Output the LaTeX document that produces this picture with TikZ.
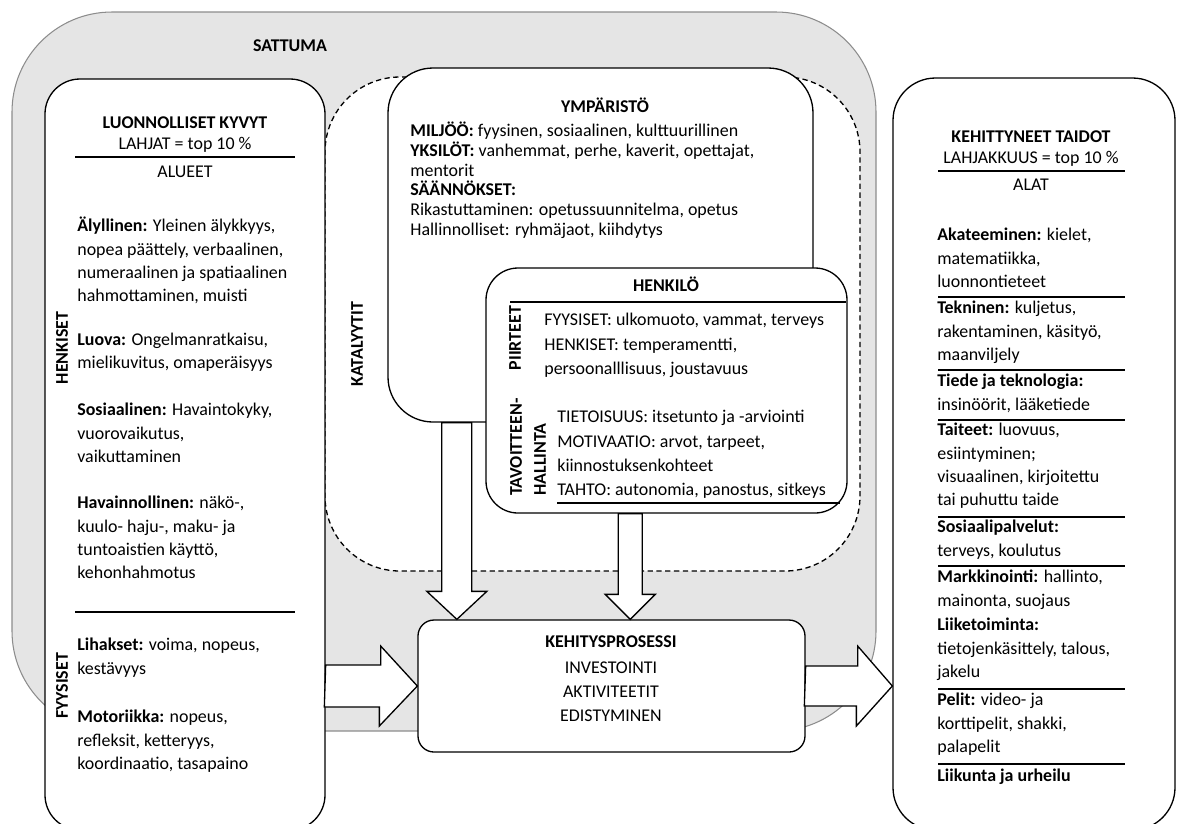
\documentclass[tikz,border=0pt]{standalone}
\usepackage{fontspec}
\setmainfont{Carlito}
\usetikzlibrary{calc, fit}

\tikzset{
  sattuma/.style={fill=gray!20, draw=black!45, line width=0.6pt, inner sep=0pt},
  box/.style={draw, fill=white, line width=0.75pt, inner sep=0pt},
  katalyytti/.style={box, dash pattern=on 3pt off 2pt},
  sep/.style={line width=0.85pt},
  fat/.style={draw, fill=white, line width=0.75pt, line join=miter},
  ttl/.style={anchor=base, inner sep=0pt, font=\fontsize{10.2}{13.2}\selectfont\bfseries},
  lbl/.style={anchor=base, inner sep=0pt, font=\fontsize{10.2}{13.2}\selectfont},
  side/.style={inner sep=0pt, rotate=90, font=\fontsize{10.2}{13.6}\selectfont\bfseries},
  para/.style={anchor=north west, inner sep=0pt, align=left,
    font=\fontsize{10.2}{#1}\selectfont, execute at begin node=\rule{0pt}{8pt}}
}

\begin{document}
\begin{tikzpicture}[x=0.02cm, y=-0.02cm]
\useasboundingbox (0,0) rectangle (1180,823);
\clip (0,0) rectangle (1180,823);

% tausta
\node[sattuma, fit={(12,12) (876,731)}, rounded corners=2cm] (satt) {};
\node[ttl] (sattT) at (290,51) {SATTUMA};

% laatikot
\node[katalyytti, fit={(325,77) (860,571)}, rounded corners=1.5cm] (kat) {};
\node[box, fit={(388,68) (813,422)}, rounded corners=0.9cm] (ymp) {};
\node[box, fit={(486,268) (847,513)}, rounded corners=0.64cm] (hen) {};
\node[box, fit={(45,79) (325,830)}, rounded corners=0.7cm] (kyvyt) {};
\node[box, fit={(893,78) (1175,830)}, rounded corners=0.85cm] (taidot) {};
\node[box, fit={(418,620) (805,752)}, rounded corners=0.32cm] (proc) {};

% nuolet
\coordinate (ympA) at ($(ymp.south west)!0.163!(ymp.south east)$);
\coordinate (henA) at ($(hen.south west)!0.40!(hen.south east)$);
\draw[fat] (ympA |- proc.north) -- ++(-30,-28) -- ++(15,0) -- ($(ympA)+(-15,0)$) -- ++(30,0)
  -- ($(ympA |- proc.north)+(15,-28)$) -- ++(15,0) -- cycle;
\draw[fat] (henA |- proc.north) -- ++(-25,-25) -- ++(13,0) -- ($(henA)+(-12,0)$) -- ++(24,0)
  -- ($(henA |- proc.north)+(12,-25)$) -- ++(13,0) -- cycle;
\draw[fat] ($(kyvyt.east |- proc.west)+(0,-21)$) -- ++(55,0) -- ++(0,-19) -- (proc.west)
  -- ++(-38,40) -- ++(0,-19) -- ++(-55,0) -- cycle;
\draw[fat] ($(proc.east)+(0,-20)$) -- ++(52,0) -- ++(0,-20) -- (taidot.west |- proc.east)
  -- ++(-36,40) -- ++(0,-20) -- ++(-52,0) -- cycle;

% luonnolliset kyvyt
\node[ttl] (kyvT) at (185,128) {LUONNOLLISET KYVYT};
\node[lbl] (lahjat) at (185,149) {LAHJAT = top 10 \%};
\draw[sep] (75,157) -- (295,157);
\node[lbl] (alueet) at (185,177) {ALUEET};
\node[side] (henk) at (62,348) {HENKISET};
\node[side] (fyys) at (62,686) {FYYSISET};
\node[para=13.15] (alyl) at (77,217) {\textbf{Älyllinen:} Yleinen älykkyys,\\nopea päättely, verbaalinen,\\numeraalinen ja spatiaalinen\\hahmottaminen, muisti};
\node[para=13.15] (luova) at (77,333) {\textbf{Luova:} Ongelmanratkaisu,\\mielikuvitus, omaperäisyys};
\node[para=13.15] (sosi) at (77,403) {\textbf{Sosiaalinen:} Havaintokyky,\\vuorovaikutus,\\vaikuttaminen};
\node[para=13.15] (hav) at (77,496) {\textbf{Havainnollinen:} näkö-,\\kuulo- haju-, maku- ja\\tuntoaistien käyttö,\\kehonhahmotus};
\draw[sep] (75,612) -- (295,612);
\node[para=13.15] (lih) at (77,638) {\textbf{Lihakset:} voima, nopeus,\\kestävyys};
\node[para=13.15] (mot) at (77,710) {\textbf{Motoriikka:} nopeus,\\refleksit, ketteryys,\\koordinaatio, tasapaino};

% katalyytit
\node[side] (katT) at (357,344) {KATALYYTIT};
\node[ttl] (ympT) at (605,112) {YMPÄRISTÖ};
\node[para=11.2] (ympP) at (410,122) {\textbf{MILJÖÖ:} fyysinen, sosiaalinen, kulttuurillinen\\\textbf{YKSILÖT:} vanhemmat, perhe, kaverit, opettajat,\\mentorit\\\textbf{SÄÄNNÖKSET:}\\Rikastuttaminen: opetussuunnitelma, opetus\\Hallinnolliset: ryhmäjaot, kiihdytys};
\node[ttl] (henT) at (666,291) {HENKILÖ};
\draw[sep] (510,302) -- (846,302);
\node[side] (piir) at (515,338) {PIIRTEET};
\node[para=13.9] (piirP) at (544,313) {FYYSISET: ulkomuoto, vammat, terveys\\HENKISET: temperamentti,\\persoonalllisuus, joustavuus};
\node[side, align=left] (tav) at (528,447) {TAVOITTEEN-\\HALLINTA};
\node[para=13.8] (tavP) at (557,410) {TIETOISUUS: itsetunto ja -arviointi\\MOTIVAATIO: arvot, tarpeet,\\kiinnostuksenkohteet\\TAHTO: autonomia, panostus, sitkeys};
\draw[sep] (557,503) -- (840,503);

% kehitysprosessi
\node[ttl] (procT) at (611,647) {KEHITYSPROSESSI};
\node[para=13.6, anchor=north, align=center] (procP) at (611,662) {INVESTOINTI\\AKTIVITEETIT\\EDISTYMINEN};

% kehittyneet taidot
\node[ttl] (taiT) at (1031,142) {KEHITTYNEET TAIDOT};
\node[lbl] (lahjak) at (1031,163) {LAHJAKKUUS = top 10 \%};
\draw[sep] (938,171) -- (1125,171);
\node[lbl] (alat) at (1031,190) {ALAT};
\node[para=13.2] (akat) at (937,228) {\textbf{Akateeminen:} kielet,\\matematiikka,\\luonnontieteet};
\draw[sep] (938,297) -- (1125,297);
\node[para=13.2] (tekn) at (937,301) {\textbf{Tekninen:} kuljetus,\\rakentaminen, käsityö,\\maanviljely};
\draw[sep] (938,370) -- (1125,370);
\node[para=13.2] (tiede) at (937,374) {\textbf{Tiede ja teknologia:}\\insinöörit, lääketiede};
\draw[sep] (938,420) -- (1125,420);
\node[para=13.2] (tait) at (937,423) {\textbf{Taiteet:} luovuus,\\esiintyminen;\\visuaalinen, kirjoitettu\\tai puhuttu taide};
\draw[sep] (938,517) -- (1125,517);
\node[para=13.2] (sospal) at (937,520) {\textbf{Sosiaalipalvelut:}\\terveys, koulutus};
\draw[sep] (938,566) -- (1125,566);
\node[para=13.5] (mark) at (937,570) {\textbf{Markkinointi:} hallinto,\\mainonta, suojaus\\\textbf{Liiketoiminta:}\\tietojenkäsittely, talous,\\jakelu};
\draw[sep] (938,689) -- (1125,689);
\node[para=13.2] (pelit) at (937,693) {\textbf{Pelit:} video- ja\\korttipelit, shakki,\\palapelit};
\draw[sep] (938,764) -- (1125,764);
\node[para=13.2] (liik) at (937,767) {\textbf{Liikunta ja urheilu}};
\end{tikzpicture}
\end{document}
